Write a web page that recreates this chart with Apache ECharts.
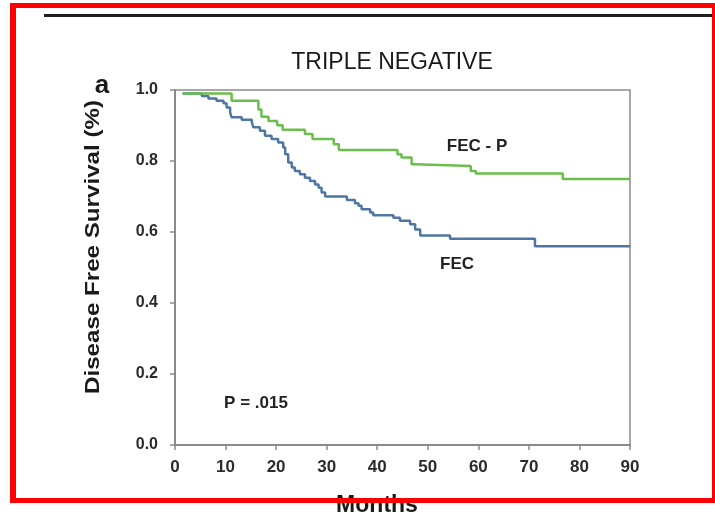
<!DOCTYPE html>
<html>
<head>
<meta charset="utf-8">
<script src="https://cdn.jsdelivr.net/npm/echarts@6/dist/echarts.min.js"></script>
<style>
  html, body { margin: 0; padding: 0; background: #fff; }
  #chart { width: 715px; height: 518px; }
</style>
</head>
<body>
<div id="chart"></div>
<script>
// survival curves: [months, survival]
const fecMonths = [1.5, 5.3, 6.6, 8.2, 9.6, 10.2, 10.9, 11.2, 13.2, 15.2, 15.5, 16.8, 17.8, 19.1, 20.4, 21.4, 21.8, 22.4, 23.1, 23.7, 24.7, 25.7, 26.7, 27.7, 28.4, 29.0, 29.7, 34.0, 35.6, 36.3, 36.9, 38.6, 39.2, 43.2, 44.5, 46.5, 47.5, 48.5, 54.4, 71.2, 90];
const fecSurvival = [0.99, 0.983, 0.976, 0.97, 0.963, 0.951, 0.937, 0.923, 0.916, 0.909, 0.895, 0.885, 0.871, 0.862, 0.852, 0.838, 0.819, 0.796, 0.782, 0.772, 0.763, 0.753, 0.744, 0.734, 0.725, 0.711, 0.70, 0.69, 0.681, 0.674, 0.664, 0.655, 0.647, 0.64, 0.632, 0.622, 0.607, 0.59, 0.581, 0.56, 0.56];

const fecpMonths = [1.5, 11.2, 16.5, 17.1, 18.5, 20.2, 21.3, 25.7, 27.2, 31.4, 32.4, 44.0, 44.8, 46.8, 47.5, 58.5, 59.5, 76.7, 90];
const fecpSurvival = [0.99, 0.97, 0.945, 0.925, 0.913, 0.901, 0.888, 0.876, 0.862, 0.847, 0.831, 0.819, 0.81, 0.791, 0.786, 0.772, 0.765, 0.749, 0.749];

const xTicks = [0, 10, 20, 30, 40, 50, 60, 70, 80, 90];
const yTicks = [0.0, 0.2, 0.4, 0.6, 0.8, 1.0];

const zip = (xs, ys) => xs.map((x, i) => [x, ys[i]]);

const axisGray = "#8a8a8a";
const labelColor = "#2b2b2b";
const font = "'Liberation Sans', Arial, sans-serif";

const chart = echarts.init(document.getElementById("chart"), null, { renderer: "canvas" });

const option = {
  animation: false,
  backgroundColor: "#fff",
  grid: {
    left: 175,
    top: 90,
    width: 455,
    height: 355,
    show: true,
    borderColor: axisGray,
    borderWidth: 1.5,
  },
  xAxis: {
    type: "value",
    min: xTicks[0],
    max: xTicks[xTicks.length - 1],
    interval: 10,
    axisLine: { show: true, lineStyle: { color: axisGray, width: 2 } },
    axisTick: { show: true, length: 5, lineStyle: { color: axisGray, width: 1.5 } },
    axisLabel: {
      color: labelColor,
      fontFamily: font,
      fontWeight: "bold",
      fontSize: 17,
      margin: 14,
    },
    splitLine: { show: false },
  },
  yAxis: {
    type: "value",
    min: yTicks[0],
    max: yTicks[yTicks.length - 1],
    interval: 0.2,
    axisLine: { show: true, lineStyle: { color: axisGray, width: 2 } },
    axisTick: { show: true, length: 5, lineStyle: { color: axisGray, width: 1.5 } },
    axisLabel: {
      color: labelColor,
      fontFamily: font,
      fontWeight: "bold",
      fontSize: 16,
      margin: 17,
      formatter: (v) => v.toFixed(1),
    },
    splitLine: { show: false },
  },
  series: [
    {
      name: "FEC",
      type: "line",
      step: "end",
      data: zip(fecMonths, fecSurvival),
      showSymbol: false,
      lineStyle: { color: "#4f76a3", width: 2.5 },
    },
    {
      name: "FEC - P",
      type: "line",
      step: "end",
      data: zip(fecpMonths, fecpSurvival),
      showSymbol: false,
      lineStyle: { color: "#6abf4b", width: 2.5 },
    },
  ],
  graphic: [
    // title and panel letter
    { type: "text", position: [392, 63], style: { text: "TRIPLE NEGATIVE", fontFamily: font, fontSize: 23, fill: "#1a1a1a", align: "center", verticalAlign: "middle" } },
    { type: "text", position: [102, 86], style: { text: "a", fontFamily: font, fontWeight: "bold", fontSize: 26, fill: "#1a1a1a", align: "center", verticalAlign: "middle" } },
    // y axis name
    { type: "text", position: [93, 247], rotation: Math.PI / 2, scaleX: 1.15, style: { text: "Disease Free Survival (%)", fontFamily: font, fontWeight: "bold", fontSize: 21, fill: "#1a1a1a", align: "center", verticalAlign: "middle" } },
    // x axis name
    { type: "text", position: [377, 506], style: { text: "Months", fontFamily: font, fontWeight: "bold", fontSize: 23, fill: "#1a1a1a", align: "center", verticalAlign: "middle" } },
    // curve labels
    { type: "text", position: [477, 146], style: { text: "FEC - P", fontFamily: font, fontWeight: "bold", fontSize: 17, fill: "#222", align: "center", verticalAlign: "middle" } },
    { type: "text", position: [457, 264], style: { text: "FEC", fontFamily: font, fontWeight: "bold", fontSize: 17, fill: "#222", align: "center", verticalAlign: "middle" } },
    { type: "text", position: [256, 403], style: { text: "P = .015", fontFamily: font, fontWeight: "bold", fontSize: 17, fill: "#222", align: "center", verticalAlign: "middle" } },
    // black rule at top
    { type: "rect", shape: { x: 44, y: 14, width: 670, height: 3 }, style: { fill: "#1e1e1e" } },
    // red frame
    { type: "rect", z: 100, shape: { x: 10, y: 3, width: 705, height: 5 }, style: { fill: "#ff0000" } },
    { type: "rect", z: 100, shape: { x: 10, y: 3, width: 6, height: 500 }, style: { fill: "#ff0000" } },
    { type: "rect", z: 100, shape: { x: 10, y: 498, width: 705, height: 5 }, style: { fill: "#ff0000" } },
    { type: "rect", z: 100, shape: { x: 712, y: 3, width: 3, height: 500 }, style: { fill: "#ff0000" } },
  ],
};

chart.setOption(option);
</script>
</body>
</html>
